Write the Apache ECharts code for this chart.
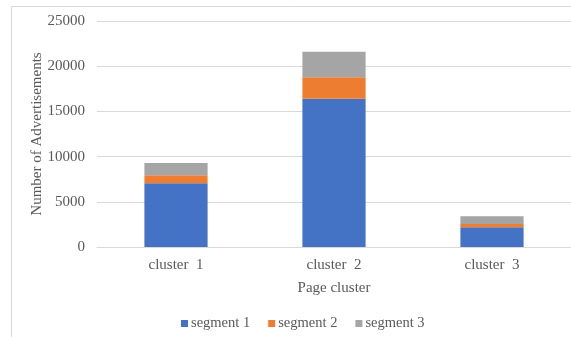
<!DOCTYPE html>
<html><head><meta charset="utf-8">
<script src="https://cdn.jsdelivr.net/npm/echarts@6/dist/echarts.min.js"></script>
<style>html,body{margin:0;padding:0;background:#fff}#c{width:571px;height:337px}</style>
</head><body><div id="c"></div>
<script>
const categories = ['cluster  1', 'cluster  2', 'cluster  3'];
const segment1 = [7050, 16400, 2180];
const segment2 = [900, 2370, 370];
const segment3 = [1350, 2830, 850];
const seriesNames = ['segment 1', 'segment 2', 'segment 3'];
const colors = ['#4472C4', '#ED7D31', '#A5A5A5'];

const chart = echarts.init(document.getElementById('c'));
const font = 'Liberation Serif';
const mk = (name, data, i) => ({
  name, type: 'bar', stack: 'total', data, barWidth: '40%',
  itemStyle: { color: colors[i] }
});
chart.setOption({
  animation: false,
  textStyle: { fontFamily: font },
  color: colors,
  grid: { left: 97, right: 0, top: 21, bottom: 90, containLabel: false },
  legend: {
    bottom: 1, left: 176, itemWidth: 7, itemHeight: 7, itemGap: 18,
    icon: 'rect',
    textStyle: { fontFamily: font, fontSize: 14.5, color: '#595959', padding: [0, 0, 0, -2] },
    data: seriesNames
  },
  xAxis: {
    type: 'category', data: categories,
    name: 'Page cluster', nameLocation: 'middle', nameGap: 34,
    nameTextStyle: { fontFamily: font, fontSize: 15, color: '#595959' },
    axisLine: { show: true, lineStyle: { color: '#D9D9D9' } },
    axisTick: { show: false },
    axisLabel: { fontFamily: font, fontSize: 15, color: '#595959', margin: 11 }
  },
  yAxis: {
    type: 'value', min: 0, max: 25000, interval: 5000,
    name: 'Number of Advertisements', nameLocation: 'middle', nameGap: 52, nameRotate: 90,
    nameMoveOverlap: false,
    nameTextStyle: { fontFamily: font, fontSize: 15, color: '#595959' },
    axisLine: { show: false }, axisTick: { show: false },
    axisLabel: { fontFamily: font, fontSize: 15, color: '#595959', margin: 12, formatter: v => String(v) },
    splitLine: { lineStyle: { color: '#D9D9D9' } }
  },
  graphic: [
    { type: 'line', shape: { x1: 11.5, y1: 6.5, x2: 571, y2: 6.5 }, style: { stroke: '#D9D9D9', lineWidth: 1 } },
    { type: 'line', shape: { x1: 11.5, y1: 6.5, x2: 11.5, y2: 337 }, style: { stroke: '#D9D9D9', lineWidth: 1 } }
  ],
  series: [mk(seriesNames[0], segment1, 0), mk(seriesNames[1], segment2, 1), mk(seriesNames[2], segment3, 2)]
});
</script></body></html>
